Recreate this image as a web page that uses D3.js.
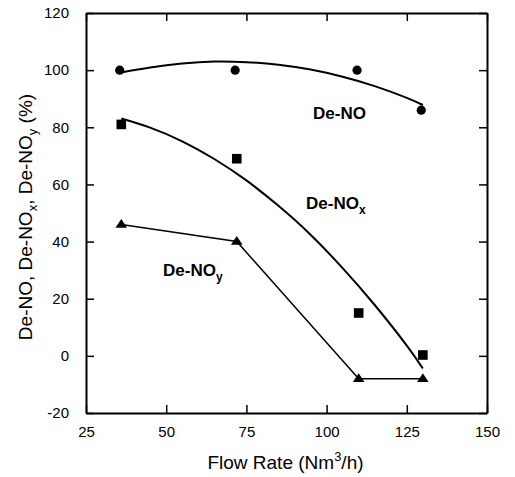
<!DOCTYPE html>
<html>
<head>
<meta charset="utf-8">
<script src="https://cdn.jsdelivr.net/npm/d3@7"></script>
<style>
  body { margin: 0; background: #fff; }
  svg { font-family: Arial, "Liberation Sans", sans-serif; }
</style>
</head>
<body>
<script>
// measured points
const flowNO = [35.5, 71.5, 109.5, 129.5];
const deNO = [100, 100, 100, 86];
const flowNOx = [36, 72, 110, 130];
const deNOx = [81, 69, 15, 0.3];
const flowNOy = [36, 72, 110, 130];
const deNOy = [46, 40, -8, -8];

// fitted curves
const fitX = [36, 45, 55, 65, 75, 85, 95, 105, 115, 125, 130];
const fitNO = [99.2, 100.9, 102.3, 103, 102.8, 101.9, 100.2, 97.7, 94.4, 90.3, 87.8];
const fitNOx = [83.1, 79.9, 75.1, 68.9, 61.4, 52.5, 42.4, 30.7, 17.8, 3.6, -4.4];

const xTicks = [25, 50, 75, 100, 125, 150];
const yTicks = [-20, 0, 20, 40, 60, 80, 100, 120];

const width = 515, height = 477;
const mLeft = 86, mRight = 487, mTop = 13, mBottom = 413;

const svg = d3.select("body").append("svg")
    .attr("width", width)
    .attr("height", height);

const x = d3.scaleLinear().domain([25, 150]).range([mLeft, mRight]);
const y = d3.scaleLinear().domain([-20, 120]).range([mBottom, mTop]);

// axes, ticks pointing inward
const fmt = d => String(d);
const gx = svg.append("g")
    .attr("transform", `translate(0,${mBottom})`)
    .call(d3.axisBottom(x).tickValues(xTicks).tickFormat(fmt).tickSizeInner(-8).tickSizeOuter(0).tickPadding(13));
const gy = svg.append("g")
    .attr("transform", `translate(${mLeft},0)`)
    .call(d3.axisLeft(y).tickValues(yTicks).tickFormat(fmt).tickSizeInner(-8).tickSizeOuter(0).tickPadding(17));
const gt = svg.append("g")
    .attr("transform", `translate(0,${mTop})`)
    .call(d3.axisTop(x).tickValues(xTicks).tickSizeInner(-8).tickSizeOuter(0).tickFormat(""));
const gr = svg.append("g")
    .attr("transform", `translate(${mRight},0)`)
    .call(d3.axisRight(y).tickValues(yTicks).tickSizeInner(-8).tickSizeOuter(0).tickFormat(""));

[gx, gy, gt, gr].forEach(g => {
    g.select(".domain").attr("stroke", "#000").attr("stroke-width", 2);
    g.selectAll(".tick line").attr("stroke", "#000").attr("stroke-width", 1.5);
    g.selectAll(".tick text").attr("font-size", 15).attr("font-family", "Arial, 'Liberation Sans', sans-serif").attr("fill", "#000");
});

// fitted curves
const curve = d3.line()
    .x((d, i) => x(fitX[i]))
    .y(d => y(d))
    .curve(d3.curveNatural);

svg.append("path").datum(fitNO)
    .attr("d", curve)
    .attr("fill", "none").attr("stroke", "#000").attr("stroke-width", 2);
svg.append("path").datum(fitNOx)
    .attr("d", curve)
    .attr("fill", "none").attr("stroke", "#000").attr("stroke-width", 2);

// De-NOy polyline
svg.append("path").datum(deNOy)
    .attr("d", d3.line().x((d, i) => x(flowNOy[i])).y(d => y(d)))
    .attr("fill", "none").attr("stroke", "#000").attr("stroke-width", 1.5);

// markers
svg.append("g").selectAll("circle")
    .data(deNO)
    .join("circle")
    .attr("cx", (d, i) => x(flowNO[i]))
    .attr("cy", d => y(d))
    .attr("r", 4.6)
    .attr("fill", "#000");

svg.append("g").selectAll("rect")
    .data(deNOx)
    .join("rect")
    .attr("x", (d, i) => x(flowNOx[i]) - 4.8)
    .attr("y", d => y(d) - 4.8)
    .attr("width", 9.6)
    .attr("height", 9.6)
    .attr("fill", "#000");

svg.append("g").selectAll("path")
    .data(deNOy)
    .join("path")
    .attr("transform", (d, i) => `translate(${x(flowNOy[i])},${y(d)})`)
    .attr("d", "M0,-5.5L5.8,3.2L-5.8,3.2Z")
    .attr("fill", "#000");

// series labels
function label(px, py, sub) {
    const t = svg.append("text")
        .attr("x", px).attr("y", py)
        .attr("font-size", 17).attr("font-weight", "bold")
        .text("De-NO");
    if (sub) {
        t.append("tspan").attr("dy", 5).attr("font-size", 12).text(sub);
    }
}
label(313, 119, null);
label(306, 209, "x");
label(163, 276, "y");

// axis titles
const xt = svg.append("text")
    .attr("x", (mLeft + mRight) / 2 - 1)
    .attr("y", 469)
    .attr("text-anchor", "middle")
    .attr("font-size", 19)
    .text("Flow Rate (Nm");
xt.append("tspan").attr("dy", -8).attr("font-size", 13).text("3");
xt.append("tspan").attr("dy", 8).text("/h)");

const yt = svg.append("text")
    .attr("transform", `translate(32,${(mTop + mBottom) / 2 + 4}) rotate(-90)`)
    .attr("text-anchor", "middle")
    .attr("font-size", 19)
    .text("De-NO, De-NO");
yt.append("tspan").attr("dy", 5).attr("font-size", 13).text("x");
yt.append("tspan").attr("dy", -5).text(", De-NO");
yt.append("tspan").attr("dy", 5).attr("font-size", 13).text("y");
yt.append("tspan").attr("dy", -5).text(" (%)");
</script>
</body>
</html>
